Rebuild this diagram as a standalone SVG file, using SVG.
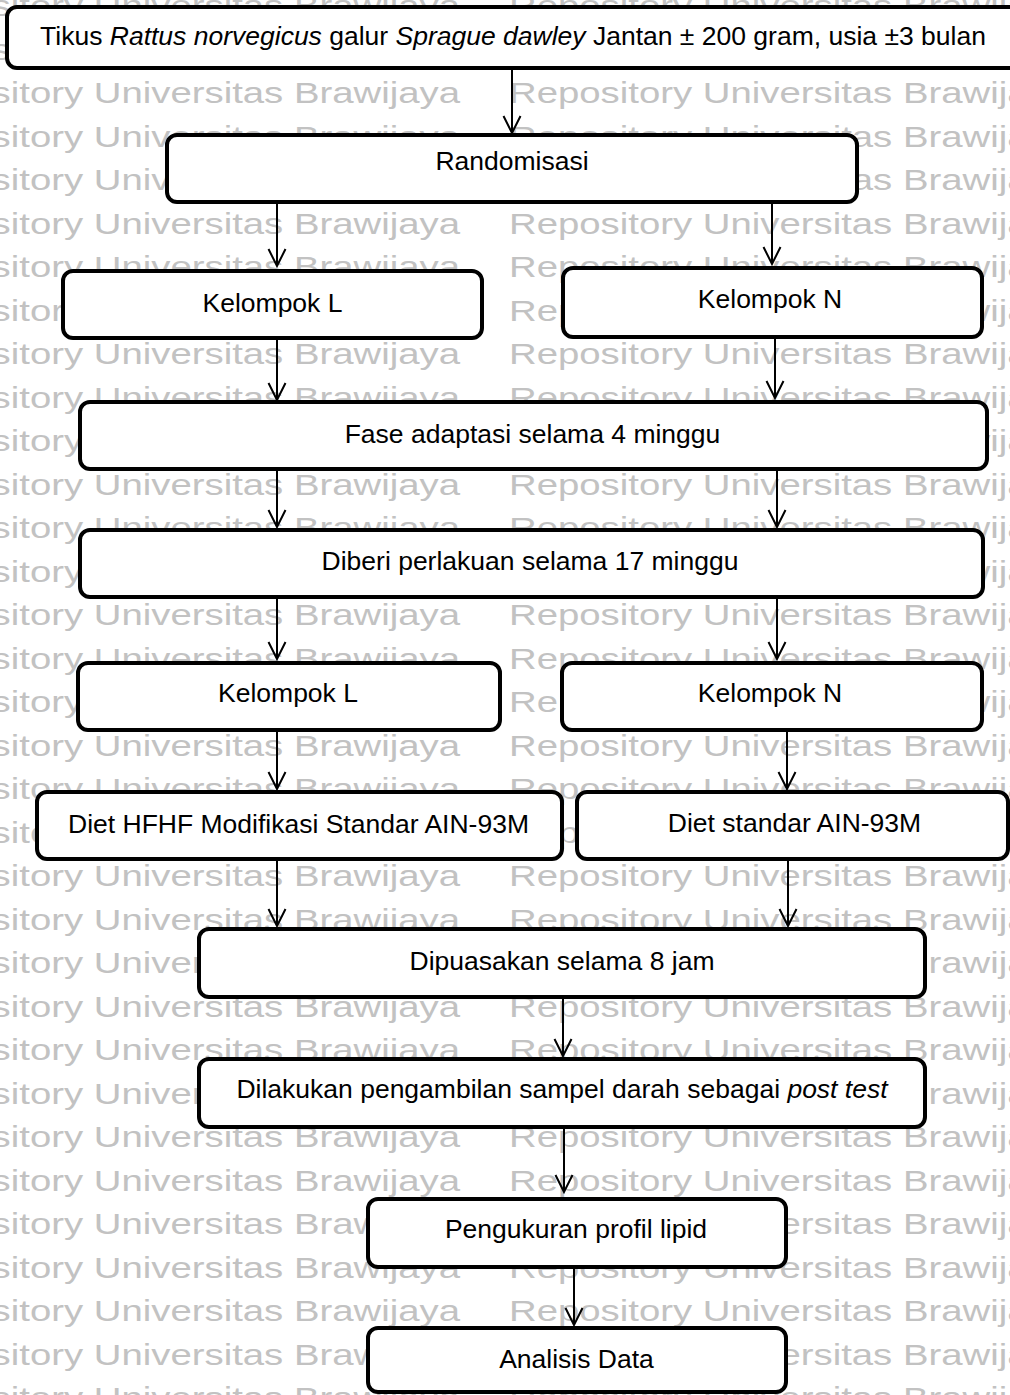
<svg xmlns="http://www.w3.org/2000/svg" xmlns:xlink="http://www.w3.org/1999/xlink" width="1010" height="1395" viewBox="0 0 1010 1395">
<style>
.wm{font-family:"Liberation Sans",Arial,sans-serif;font-size:30px;fill:#c2c2c2;}
.box{fill:#fff;stroke:#000;stroke-width:4;}
.lbl{font-family:"Liberation Sans",Arial,sans-serif;font-size:26.5px;fill:#000;text-anchor:middle;}
.it{font-style:italic;}
.con{fill:none;stroke:#000;stroke-width:2;marker-end:url(#arr);}
</style>
<defs>
<marker id="arr" viewBox="-19 -10 21 20" markerWidth="21" markerHeight="20" refX="0" refY="0" markerUnits="userSpaceOnUse" orient="auto">
<path d="M-17,-8.5 L0,0 L-17,8.5" fill="none" stroke="#000" stroke-width="2"/>
</marker>
<g id="wmrow">
<text class="wm" x="-100" y="0" textLength="560" lengthAdjust="spacingAndGlyphs">Repository Universitas Brawijaya</text>
<text class="wm" x="509" y="0" textLength="560" lengthAdjust="spacingAndGlyphs">Repository Universitas Brawijaya</text>
</g>
</defs>
<rect width="1010" height="1395" fill="#fff"/>
<g id="watermark">
<use xlink:href="#wmrow" y="16"/>
<use xlink:href="#wmrow" y="59.5"/>
<use xlink:href="#wmrow" y="103"/>
<use xlink:href="#wmrow" y="146.5"/>
<use xlink:href="#wmrow" y="190"/>
<use xlink:href="#wmrow" y="233.5"/>
<use xlink:href="#wmrow" y="277"/>
<use xlink:href="#wmrow" y="320.5"/>
<use xlink:href="#wmrow" y="364"/>
<use xlink:href="#wmrow" y="407.5"/>
<use xlink:href="#wmrow" y="451"/>
<use xlink:href="#wmrow" y="494.5"/>
<use xlink:href="#wmrow" y="538"/>
<use xlink:href="#wmrow" y="581.5"/>
<use xlink:href="#wmrow" y="625"/>
<use xlink:href="#wmrow" y="668.5"/>
<use xlink:href="#wmrow" y="712"/>
<use xlink:href="#wmrow" y="755.5"/>
<use xlink:href="#wmrow" y="799"/>
<use xlink:href="#wmrow" y="842.5"/>
<use xlink:href="#wmrow" y="886"/>
<use xlink:href="#wmrow" y="929.5"/>
<use xlink:href="#wmrow" y="973"/>
<use xlink:href="#wmrow" y="1016.5"/>
<use xlink:href="#wmrow" y="1060"/>
<use xlink:href="#wmrow" y="1103.5"/>
<use xlink:href="#wmrow" y="1147"/>
<use xlink:href="#wmrow" y="1190.5"/>
<use xlink:href="#wmrow" y="1234"/>
<use xlink:href="#wmrow" y="1277.5"/>
<use xlink:href="#wmrow" y="1321"/>
<use xlink:href="#wmrow" y="1364.5"/>
<use xlink:href="#wmrow" y="1408"/>
</g>
<g id="connectors">
<path class="con" d="M512,70 V133"/>
<path class="con" d="M277,202 V266"/>
<path class="con" d="M772,202 V264"/>
<path class="con" d="M277,338 V400"/>
<path class="con" d="M775,337 V398"/>
<path class="con" d="M277,470 V527"/>
<path class="con" d="M777,470 V527"/>
<path class="con" d="M277,597 V659"/>
<path class="con" d="M777,597 V659"/>
<path class="con" d="M277,730 V789"/>
<path class="con" d="M787,730 V789"/>
<path class="con" d="M277,860 V926"/>
<path class="con" d="M788,859 V926"/>
<path class="con" d="M563,997 V1056"/>
<path class="con" d="M564,1127 V1192"/>
<path class="con" d="M574,1267 V1325"/>
</g>
<g id="n_title">
<rect class="box" x="7" y="7" width="1020" height="61" rx="10"/>
<text class="lbl" x="513" y="45">Tikus <tspan class="it">Rattus norvegicus</tspan> galur <tspan class="it">Sprague dawley</tspan> Jantan ± 200 gram, usia ±3 bulan</text>
</g>
<g id="n_random">
<rect class="box" x="167" y="135" width="690" height="67" rx="10"/>
<text class="lbl" x="512" y="170">Randomisasi</text>
</g>
<g id="n_kl1">
<rect class="box" x="63" y="271" width="419" height="67" rx="10"/>
<text class="lbl" x="272.5" y="312">Kelompok L</text>
</g>
<g id="n_kn1">
<rect class="box" x="563" y="268" width="419" height="69" rx="10"/>
<text class="lbl" x="770" y="308">Kelompok N</text>
</g>
<g id="n_fase">
<rect class="box" x="80" y="402" width="907" height="67" rx="10"/>
<text class="lbl" x="532.5" y="443">Fase adaptasi selama 4 minggu</text>
</g>
<g id="n_diberi">
<rect class="box" x="80" y="530" width="903" height="67" rx="10"/>
<text class="lbl" x="530" y="570">Diberi perlakuan selama 17 minggu</text>
</g>
<g id="n_kl2">
<rect class="box" x="78" y="663" width="422" height="67" rx="10"/>
<text class="lbl" x="288" y="702">Kelompok L</text>
</g>
<g id="n_kn2">
<rect class="box" x="562" y="663" width="420" height="67" rx="10"/>
<text class="lbl" x="770" y="702">Kelompok N</text>
</g>
<g id="n_hfhf">
<rect class="box" x="37" y="792" width="525" height="67" rx="10"/>
<text class="lbl" x="298.5" y="833">Diet HFHF Modifikasi Standar AIN-93M</text>
</g>
<g id="n_std">
<rect class="box" x="577" y="792" width="431" height="67" rx="10"/>
<text class="lbl" x="794.5" y="832">Diet standar AIN-93M</text>
</g>
<g id="n_puasa">
<rect class="box" x="199" y="929" width="726" height="68" rx="10"/>
<text class="lbl" x="562" y="970">Dipuasakan selama 8 jam</text>
</g>
<g id="n_sampel">
<rect class="box" x="199" y="1059" width="726" height="68" rx="10"/>
<text class="lbl" x="562" y="1098">Dilakukan pengambilan sampel darah sebagai <tspan class="it">post test</tspan></text>
</g>
<g id="n_lipid">
<rect class="box" x="368" y="1199" width="418" height="68" rx="10"/>
<text class="lbl" x="576" y="1238">Pengukuran profil lipid</text>
</g>
<g id="n_analisis">
<rect class="box" x="368" y="1328" width="418" height="64" rx="10"/>
<text class="lbl" x="576.5" y="1368">Analisis Data</text>
</g>
</svg>
